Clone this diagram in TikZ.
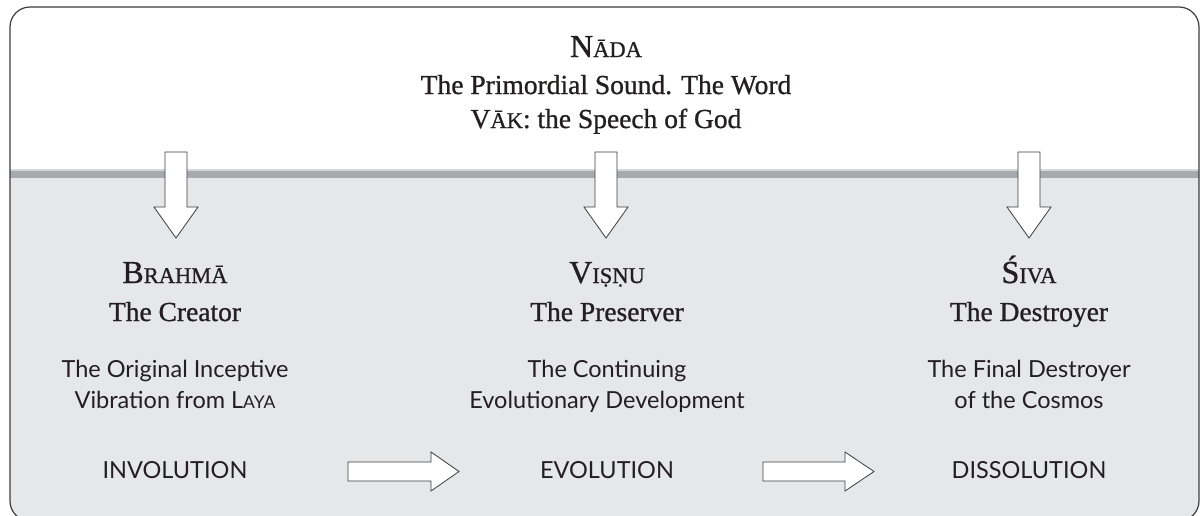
\documentclass[tikz,border=0pt]{standalone}
\usepackage{fontspec}
\setmainfont{Liberation Serif}[FakeBold=0.9]
\newfontfamily\gillsans{Lato}
\usetikzlibrary{positioning, calc}
\definecolor{CosmosFrame}{RGB}{60, 60, 60}
\definecolor{CosmosBand}{RGB}{167, 169, 172}
\definecolor{CosmosRule}{RGB}{214, 215, 217}
\definecolor{CosmosFill}{RGB}{230, 231, 232}
\definecolor{CosmosText}{RGB}{35, 31, 32}

% fake small caps: big initial, smaller capitals
\newcommand{\smcap}[2]{#1{\fontsize{22.5}{26}\selectfont #2}}
\newcommand{\gsmcap}[2]{#1{\fontsize{17.5}{20}\selectfont #2}}

\tikzset{
    deity/.style={anchor=base, inner sep=0pt, text=CosmosText, font=\fontsize{32}{36}\selectfont},
    epithet/.style={anchor=base, inner sep=0pt, text=CosmosText, font=\fontsize{27.5}{30}\selectfont},
    gloss/.style={anchor=base, inner sep=0pt, text=CosmosText, font=\gillsans\fontsize{23.5}{26}\selectfont},
    blockarrow/.style={fill=white, draw=CosmosFrame, line width=0.8pt, line join=miter}
}

\begin{document}
\begin{tikzpicture}[x=1pt, y=-1pt]

    \useasboundingbox (0,0) rectangle (1203,515);
    \clip (0,0) rectangle (1203,515);

    % --- Panel geometry ---
    \def\panelL{10}
    \def\panelR{1199}
    \def\panelT{7}
    \def\panelB{521}
    \def\bandTop{169}
    \def\bandBot{178}

    % --- Panel (white top, grey bottom) ---
    \begin{scope}
        \clip[rounded corners=20] (\panelL,\panelT) rectangle (\panelR,\panelB);
        \fill[white] (\panelL,\panelT) rectangle (\panelR,\panelB);
        \fill[CosmosFill] (\panelL,\bandBot) rectangle (\panelR,\panelB);
        \fill[CosmosRule] (\panelL,\bandTop) rectangle (\panelR,\bandBot);
        \fill[CosmosBand] (\panelL,\bandTop+2) rectangle (\panelR,\bandBot);
    \end{scope}

    % --- Source ---
    \node[deity] (nada) at (606,57) {\smcap{N}{ĀDA}};
    \node[epithet] (sound) at (606,94) {The Primordial Sound. The Word};
    \node[epithet] (vak) at (606,128) {\smcap{V}{ĀK}: the Speech of God};

    % --- Down arrows ---
    \foreach \x in {176, 606, 1029} {
        \draw[blockarrow] ({\x-11},152) -- ({\x+11},152) -- ({\x+11},207) -- ({\x+22},207)
            -- (\x,238) -- ({\x-22},207) -- ({\x-11},207) -- cycle;
    }

    % --- Three columns ---
    \foreach \name/\x/\head/\role/\linea/\lineb/\phase in {
        brahma/175/{\smcap{B}{RAHMĀ}}/{The Creator}/{The Original Inceptive}/{Vibration from \gsmcap{L}{AYA}}/INVOLUTION,
        vishnu/607/{\smcap{V}{IṢṆU}}/{The Preserver}/{The Continuing}/{Evolutionary Development}/EVOLUTION,
        shiva/1029/{\smcap{Ś}{IVA}}/{The Destroyer}/{The Final Destroyer}/{of the Cosmos}/DISSOLUTION} {
        \node[deity] (\name-head) at (\x,283) {\head};
        \node[epithet] (\name-role) at (\x,321) {\role};
        \node[gloss] (\name-a) at (\x,377) {\linea};
        \node[gloss] (\name-b) at (\x,408) {\lineb};
        \node[gloss] (\name-phase) at (\x,478) {\phase};
    }

    % --- Side arrows ---
    \foreach \xa/\xb/\xt in {348/431/459, 763/845/874} {
        \draw[blockarrow] (\xa,462) -- (\xb,462) -- (\xb,452) -- (\xt,471.5)
            -- (\xb,491) -- (\xb,481) -- (\xa,481) -- cycle;
    }

    % --- Outline ---
    \draw[CosmosFrame, line width=1.2pt, rounded corners=20] (\panelL,\panelT) rectangle (\panelR,\panelB);

\end{tikzpicture}
\end{document}
